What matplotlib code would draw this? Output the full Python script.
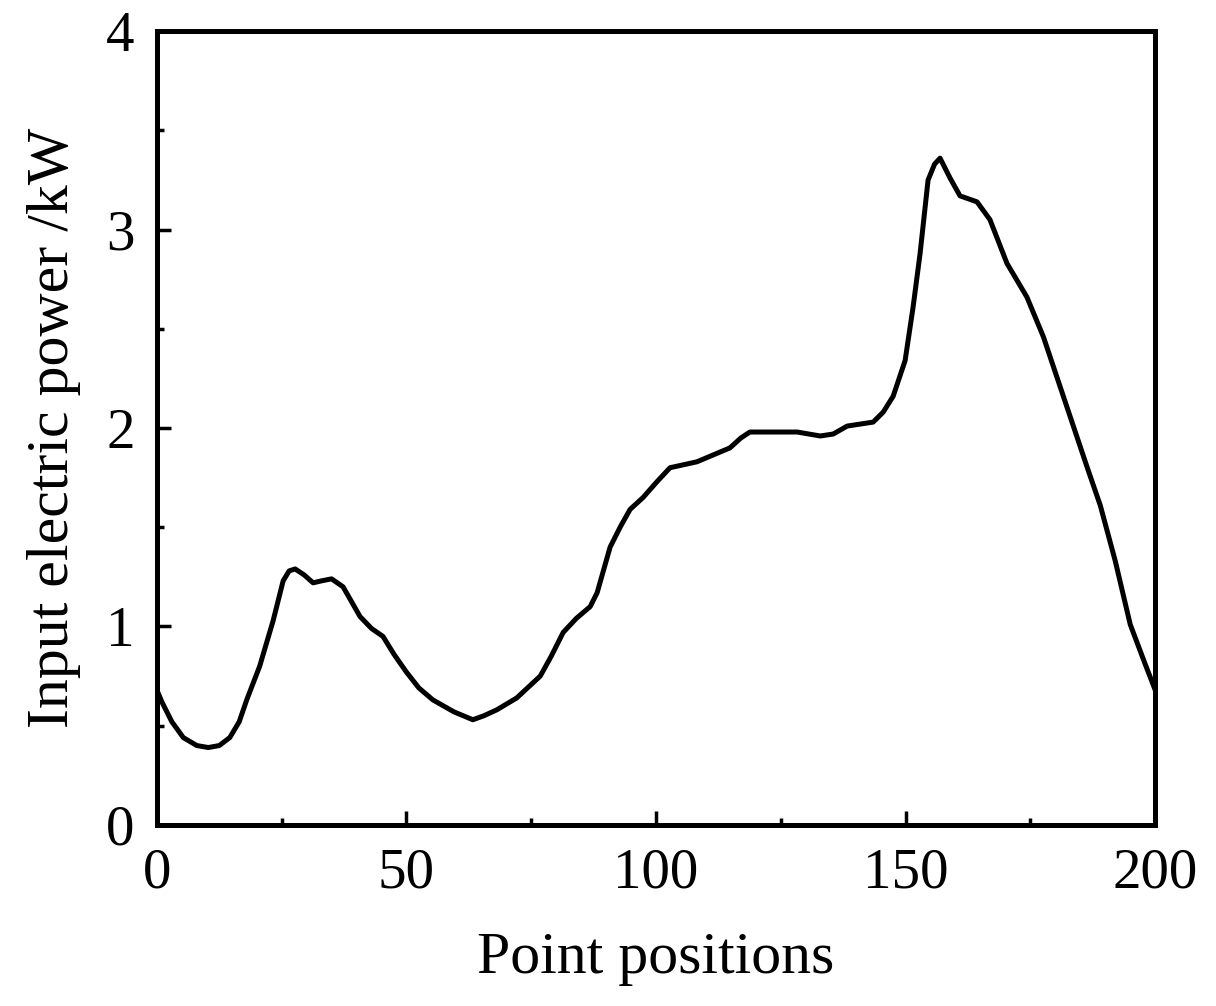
import numpy as np
import matplotlib
matplotlib.use("Agg")
import matplotlib.pyplot as plt
from matplotlib.ticker import MultipleLocator

plt.rcParams['font.family'] = ['Liberation Serif', 'DejaVu Serif']

# point position vs input electric power (kW)
pos = [0, 1, 3, 5.3, 8, 10.3, 12.5, 14.6, 16.5, 18, 20.6, 23.3, 25.3, 26.5, 27.7,
       29.5, 31.3, 33, 35, 37.3, 40.7, 43, 45.3, 47.5, 50, 52.5, 55.3, 59.5, 63.3,
       65.5, 68.1, 72.1, 76.8, 79, 81.4, 84, 86.8, 88.2, 90.8, 92.8, 94.8, 97.4,
       100.2, 102.8, 108.2, 114.8, 117, 118.8, 123, 128.3, 132.9, 135.5, 138.3,
       143.5, 145.5, 147.5, 149.9, 151.5, 152.9, 154.5, 155.8, 156.9, 158.9,
       160.9, 164.3, 166.9, 170.3, 174.3, 177.6, 181.6, 186.4, 189, 192, 195,
       198, 200]
power = [0.68, 0.62, 0.52, 0.44, 0.40, 0.39, 0.40, 0.44, 0.52, 0.63, 0.80, 1.03,
         1.23, 1.28, 1.29, 1.26, 1.22, 1.23, 1.24, 1.20, 1.05, 0.99, 0.95, 0.86,
         0.77, 0.69, 0.63, 0.57, 0.53, 0.55, 0.58, 0.64, 0.75, 0.85, 0.97, 1.04,
         1.10, 1.17, 1.40, 1.50, 1.59, 1.65, 1.73, 1.80, 1.83, 1.90, 1.95, 1.98,
         1.98, 1.98, 1.96, 1.97, 2.01, 2.03, 2.08, 2.16, 2.34, 2.61, 2.88, 3.25,
         3.33, 3.36, 3.26, 3.17, 3.14, 3.05, 2.83, 2.66, 2.46, 2.16, 1.80, 1.61,
         1.33, 1.01, 0.81, 0.68]

fig = plt.figure(figsize=(12.16, 10.06), dpi=100)
ax = fig.add_axes([0.129, 0.180, 0.821, 0.789])

ax.plot(pos, power, color='black', linewidth=3.6,
        solid_joinstyle='round', solid_capstyle='round')

ax.set_xlim(0, 200)
ax.set_ylim(0, 4)
ax.xaxis.set_major_locator(MultipleLocator(50))
ax.xaxis.set_minor_locator(MultipleLocator(25))
ax.yaxis.set_major_locator(MultipleLocator(1))
ax.yaxis.set_minor_locator(MultipleLocator(0.5))

ax.tick_params(which='both', direction='in', width=2.5, labelsize=41)
ax.tick_params(which='major', length=10)
ax.tick_params(which='minor', length=5)
ax.tick_params(axis='x', pad=16)
ax.tick_params(axis='y', pad=16)
for sp in ax.spines.values():
    sp.set_linewidth(3.6)

ax.set_xlabel("Point positions", fontsize=43, labelpad=24)
ax.set_ylabel("Input electric power /kW", fontsize=43, labelpad=18)

fig.savefig("out.png", dpi=100)
